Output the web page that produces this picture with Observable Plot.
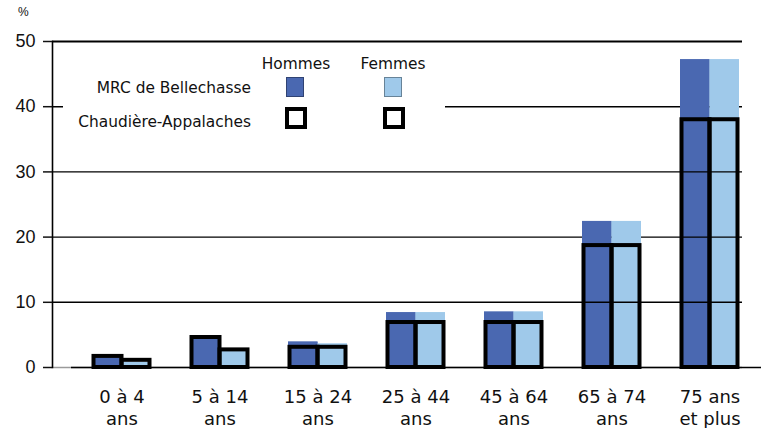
<!DOCTYPE html>
<html>
<head>
<meta charset="utf-8">
<script src="https://cdn.jsdelivr.net/npm/d3@7"></script>
<script src="https://cdn.jsdelivr.net/npm/@observablehq/plot@0.6"></script>
<style>
  html, body { margin: 0; padding: 0; background: #fff; }
  #wrap { position: relative; width: 763px; height: 428px; overflow: hidden; font-family: "DejaVu Sans", Verdana, sans-serif; color: #111; }
  #wrap svg { position: absolute; left: 0; top: 0; }
  .ov { position: absolute; }
  .lbl { font-size: 15.4px; white-space: nowrap; line-height: 1; }
</style>
</head>
<body>
<div id="wrap"></div>
<script>
// ---- data ----
const categories = ["0 à 4 ans", "5 à 14 ans", "15 à 24 ans", "25 à 44 ans", "45 à 64 ans", "65 à 74 ans", "75 ans et plus"];
const tickLabels = ["0 à 4\nans", "5 à 14\nans", "15 à 24\nans", "25 à 44\nans", "45 à 64\nans", "65 à 74\nans", "75 ans\net plus"];
const sexes = ["Hommes", "Femmes"];
const regions = ["MRC de Bellechasse", "Chaudière-Appalaches"];
const mrcHommes = [1.5, 4.5, 3.9, 8.4, 8.5, 22.4, 47.2];
const mrcFemmes = [0.8, 2.9, 3.6, 8.4, 8.5, 22.4, 47.2];
const caHommes  = [1.7, 4.6, 3.1, 6.9, 6.9, 18.7, 38.0];
const caFemmes  = [1.1, 2.7, 3.1, 6.9, 6.9, 18.7, 38.0];
const yTicks = [0, 10, 20, 30, 40, 50];
const colors = {Hommes: "#4a68b1", Femmes: "#9fc9ea"};

const rowsH = categories.map((c, i) => ({cat: c, sex: "Hommes", mrc: mrcHommes[i], ca: caHommes[i]}));
const rowsF = categories.map((c, i) => ({cat: c, sex: "Femmes", mrc: mrcFemmes[i], ca: caFemmes[i]}));

const half = 29.5;
const fillBars = (rows, opts) => Plot.barY(rows, {x: "cat", y: "mrc", fill: colors[rows[0].sex], ...opts});
const upperBars = (rows, opts) => Plot.barY(rows.filter(d => d.mrc > d.ca), {x: "cat", y1: "ca", y2: "mrc", fill: colors[rows[0].sex], ...opts});
const outlineBars = (rows, opts) => Plot.barY(rows, {x: "cat", y: "ca", fill: "none", stroke: "#000", strokeWidth: 4, ...opts});

const chart = Plot.plot({
  width: 763,
  height: 428,
  marginLeft: 52,
  marginRight: 21,
  marginTop: 41,
  marginBottom: 61,
  style: {background: "transparent", overflow: "visible"},
  x: {domain: categories, range: [71, 760], paddingInner: 0.4, paddingOuter: 0.2, align: 0.5},
  y: {domain: [0, 50]},
  marks: [
    fillBars(rowsH, {insetRight: half}),
    fillBars(rowsF, {insetLeft: half}),
    Plot.ruleY([0], {stroke: "#9a9a9a", strokeWidth: 1.5}),
    Plot.ruleY([10, 20, 30, 40], {stroke: "#000", strokeWidth: 1.4}),
    Plot.ruleY([50], {stroke: "#000", strokeWidth: 2.2}),
    upperBars(rowsH, {insetRight: half}),
    upperBars(rowsF, {insetLeft: half}),
    Plot.ruleY([0], {dx: 19, stroke: "#000", strokeWidth: 1.6}),
    outlineBars(rowsH, {insetRight: half, insetLeft: 1.5}),
    outlineBars(rowsF, {insetLeft: half, insetRight: 1.5}),
    Plot.frame({anchor: "left", stroke: "#000", strokeWidth: 1.6}),
    Plot.axisY(yTicks, {tickSize: 9, tickPadding: 8, fontSize: 18, fontFamily: "Liberation Sans, Arial, sans-serif", fill: "#111", strokeWidth: 1.5, label: null, tickFormat: d => String(d)}),
    Plot.axisX({tickSize: 0, tickPadding: 21, fontSize: 18, fontFamily: "DejaVu Sans, Verdana, sans-serif", fill: "#111", lineHeight: 1.17, label: null, tickFormat: d => tickLabels[categories.indexOf(d)]})
  ]
});

const wrap = document.getElementById("wrap");
wrap.appendChild(chart);

function add(html, css) {
  const el = document.createElement("div");
  el.className = "ov";
  el.innerHTML = html;
  Object.assign(el.style, css);
  wrap.appendChild(el);
  return el;
}

// "%" unit label
add("%", {left: "18px", top: "6px", font: "12px 'Liberation Sans', Arial, sans-serif", lineHeight: "1"});

// legend box (white, hides part of the 40 gridline)
add("", {left: "63px", top: "47px", width: "382px", height: "90px", background: "#fff"});
add(sexes[0], {left: "246px", top: "57px", width: "100px", textAlign: "center"}).classList.add("lbl");
add(sexes[1], {left: "343px", top: "57px", width: "100px", textAlign: "center"}).classList.add("lbl");
add(regions[0], {left: "40px", top: "81px", width: "211px", textAlign: "right"}).classList.add("lbl");
add(regions[1], {left: "40px", top: "115px", width: "211px", textAlign: "right"}).classList.add("lbl");
add("", {left: "286px", top: "77px", width: "18px", height: "20px", background: colors.Hommes, boxShadow: "inset 0 0 0 1px rgba(0,0,0,0.35)"});
add("", {left: "384px", top: "77px", width: "18px", height: "20px", background: colors.Femmes, boxShadow: "inset 0 0 0 1px rgba(0,0,0,0.35)"});
add("", {left: "285px", top: "107px", width: "14px", height: "14px", border: "4px solid #000", background: "#fff"});
add("", {left: "383px", top: "107px", width: "14px", height: "14px", border: "4px solid #000", background: "#fff"});
</script>
</body>
</html>
